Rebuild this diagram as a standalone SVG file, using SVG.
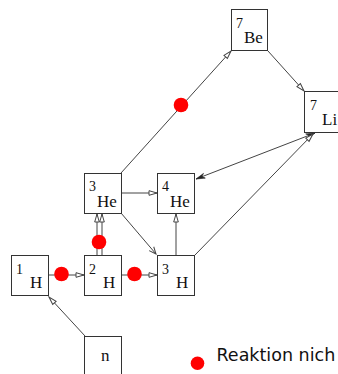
<svg xmlns="http://www.w3.org/2000/svg" width="338" height="374" viewBox="0 0 338 374">
<style>
.box rect{fill:#fff;stroke:#333;stroke-width:1}
.sup{font-family:"Liberation Serif",serif;font-size:14px;fill:#111}
.el{font-family:"Liberation Serif",serif;font-size:17px;fill:#111}
.c line{stroke:#444;stroke-width:1;fill:none}
.o{marker-end:url(#open)}
.v{marker-end:url(#vee)}
.d{marker-start:url(#fillS);marker-end:url(#fillE)}
.dot{fill:#ff0000}
.leg{font-family:"DejaVu Sans",sans-serif;font-size:17.5px;fill:#111}
</style>
<defs>
<marker id="open" markerUnits="userSpaceOnUse" markerWidth="12" markerHeight="8" viewBox="-10 -4 12 8" refX="0" refY="0" orient="auto">
<path d="M-8,-2.3 L0,0 L-8,2.3 z" fill="#fff" stroke="#444" stroke-width="1"/>
</marker>
<marker id="vee" markerUnits="userSpaceOnUse" markerWidth="12" markerHeight="10" viewBox="-10 -5 12 10" refX="0" refY="0" orient="auto">
<path d="M-7,-3 L0,0 L-7,3" fill="none" stroke="#444" stroke-width="1"/>
</marker>
<marker id="fillE" markerUnits="userSpaceOnUse" markerWidth="12" markerHeight="8" viewBox="-10 -4 12 8" refX="0" refY="0" orient="auto">
<path d="M-9,-2.5 L0,0 L-9,2.5 L-6,0 z" fill="#222" stroke="#222" stroke-width="0.6"/>
</marker>
<marker id="fillS" markerUnits="userSpaceOnUse" markerWidth="12" markerHeight="8" viewBox="-2 -4 12 8" refX="0" refY="0" orient="auto">
<path d="M9,-2.5 L0,0 L9,2.5 L6,0 z" fill="#222" stroke="#222" stroke-width="0.6"/>
</marker>
</defs>

<g id="connectors" class="c">
<line class="o" x1="121" y1="173" x2="231" y2="51"/>
<line class="o" x1="268" y1="51" x2="304" y2="91"/>
<line class="d" x1="196" y1="179" x2="315" y2="133"/>
<line class="o" x1="195" y1="255" x2="313" y2="134"/>
<line class="o" x1="121" y1="193" x2="157" y2="193"/>
<line class="v" x1="121" y1="213" x2="156" y2="254"/>
<line class="o" x1="176" y1="255" x2="176" y2="214"/>
<line class="o" x1="97" y1="255" x2="97" y2="214"/>
<line class="o" x1="102" y1="255" x2="102" y2="214"/>
<line class="o" x1="48" y1="275" x2="84" y2="275"/>
<line class="o" x1="121" y1="275" x2="157" y2="275"/>
<line class="o" x1="85" y1="336" x2="49" y2="297"/>
</g>

<g id="dots">
<circle class="dot" cx="181" cy="105" r="7.3"/>
<circle class="dot" cx="99" cy="242" r="7.3"/>
<circle class="dot" cx="61.5" cy="274" r="7.3"/>
<circle class="dot" cx="134.5" cy="274" r="7.3"/>
</g>

<g id="Be7" class="box"><rect x="231.5" y="9.5" width="36" height="41"/><text class="sup" x="236" y="28">7</text><text class="el" x="244" y="43">Be</text></g>
<g id="Li7" class="box"><rect x="304.5" y="91.5" width="37" height="41"/><text class="sup" x="310" y="110">7</text><text class="el" x="322" y="125">Li</text></g>
<g id="He3" class="box"><rect x="84.5" y="173.5" width="37" height="40"/><text class="sup" x="89" y="191">3</text><text class="el" x="97" y="207">He</text></g>
<g id="He4" class="box"><rect x="157.5" y="173.5" width="37" height="40"/><text class="sup" x="162" y="191">4</text><text class="el" x="170" y="207">He</text></g>
<g id="H1" class="box"><rect x="11.5" y="255.5" width="37" height="40"/><text class="sup" x="16" y="274">1</text><text class="el" x="30" y="288">H</text></g>
<g id="H2" class="box"><rect x="84.5" y="255.5" width="37" height="40"/><text class="sup" x="89" y="274">2</text><text class="el" x="103" y="288">H</text></g>
<g id="H3" class="box"><rect x="157.5" y="255.5" width="37" height="40"/><text class="sup" x="162" y="274">3</text><text class="el" x="176" y="288">H</text></g>
<g id="n" class="box"><rect x="84.5" y="336.5" width="37" height="41"/><text class="el" x="101" y="361">n</text></g>

<g id="legend">
<circle class="dot" cx="197.5" cy="363.3" r="6.8"/>
<text class="leg" x="216.5" y="361">Reaktion nich</text>
</g>
</svg>
